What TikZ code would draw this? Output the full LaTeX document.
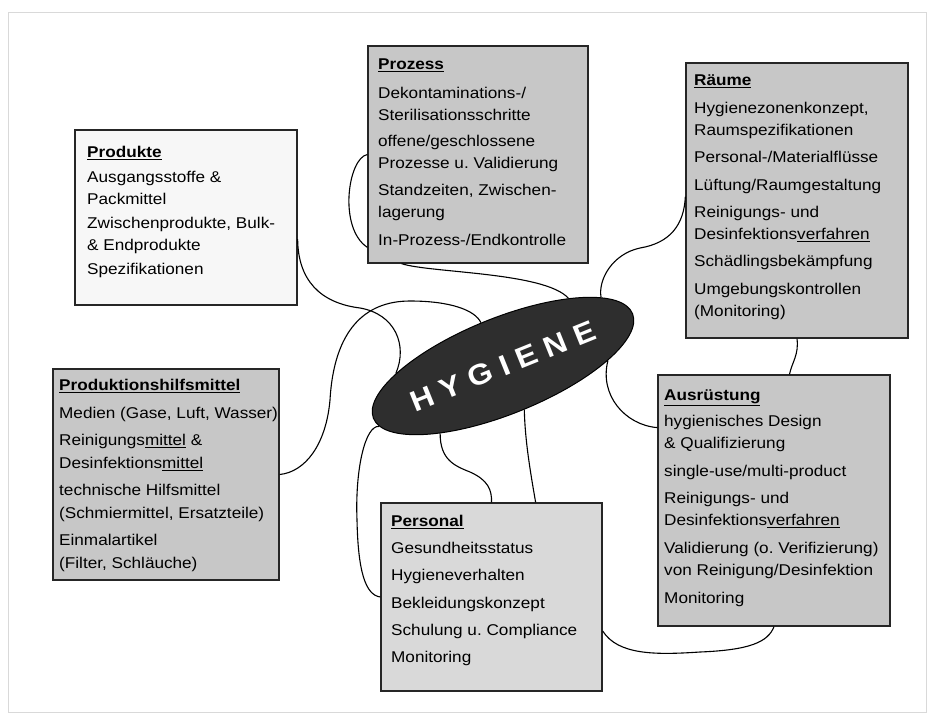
\documentclass[tikz,border=0pt]{standalone}
\usepackage{fontspec}
\setmainfont{Liberation Sans}[FakeStretch=1.1]
\usetikzlibrary{shapes.geometric}
\newcommand\undl[1]{\underline{#1}}
\definecolor{fwhite}{gray}{0.97}
\definecolor{fmid}{gray}{0.78}
\definecolor{flight}{gray}{0.85}
\definecolor{fdark}{gray}{0.18}
\definecolor{frame}{gray}{0.85}
\frenchspacing
\begin{document}
\begin{tikzpicture}[x=1pt,y=-1pt,
  box/.style={draw=black!85, line width=1.3pt, rectangle, inner sep=0pt},
  txt/.style={anchor=north west, inner sep=0pt, align=left, font=\fontsize{15.6}{22}\selectfont},
  link/.style={draw=black, line width=1.1pt},
]
\useasboundingbox (0,0) rectangle (934,720);
\draw[frame, line width=1pt] (8,12) rectangle (926,712);

% boxes
\node[box, fill=fwhite, minimum width=222pt, minimum height=175pt] (prod) at (186,217.5) {};
\node[box, fill=fmid, minimum width=220pt, minimum height=217pt] (pz) at (478,154.5) {};
\node[box, fill=fmid, minimum width=222pt, minimum height=275pt] (rm) at (797,200.5) {};
\node[box, fill=fmid, minimum width=226pt, minimum height=211pt] (ph) at (166,474.5) {};
\node[box, fill=flight, minimum width=221pt, minimum height=188pt] (ps) at (491.5,597) {};
\node[box, fill=fmid, minimum width=232pt, minimum height=251pt] (au) at (774,500.5) {};

% texts
\node[txt] (prodtxt) at (87,141.6) {\strut\textbf{\undl{Produkte}}\\[3pt]
Ausgangsstoffe \&\\
Packmittel\\[2pt]
Zwischenprodukte, Bulk-\\
\& Endprodukte\\[2pt]
Spezifikationen};

\node[txt] (pztxt) at (378,53.9) {\strut\textbf{\undl{Prozess}}\\[7pt]
Dekontaminations-/\\
Sterilisationsschritte\\[4pt]
offene/geschlossene\\
Prozesse u. Validierung\\[5pt]
Standzeiten, Zwischen-\\
lagerung\\[6pt]
In-Prozess-/Endkontrolle};

\node[txt] (rmtxt) at (694,69.6) {\strut\textbf{\undl{Räume}}\\[6pt]
Hygienezonenkonzept,\\
Raumspezifikationen\\[5pt]
Personal-/Materialflüsse\\[6pt]
Lüftung/Raumgestaltung\\[5pt]
Reinigungs- und\\
Desinfektions\undl{verfahren}\\[5pt]
Schädlingsbekämpfung\\[6pt]
Umgebungskontrollen\\
(Monitoring)};

\node[txt] (phtxt) at (59,375.3) {\strut\textbf{\undl{Produktionshilfsmittel}}\\[5.5pt]
Medien (Gase, Luft, Wasser)\\[5pt]
Reinigungs\undl{mittel} \&\\[1pt]
Desinfektions\undl{mittel}\\[5pt]
technische Hilfsmittel\\[1pt]
(Schmiermittel, Ersatzteile)\\[5pt]
Einmalartikel\\[1pt]
(Filter, Schläuche)};

\node[txt] (pstxt) at (391,511.3) {\strut\textbf{\undl{Personal}}\\[5pt]
Gesundheitsstatus\\[5pt]
Hygieneverhalten\\[6pt]
Bekleidungskonzept\\[5pt]
Schulung u. Compliance\\[5pt]
Monitoring};

\node[txt] (autxt) at (664,384.6) {\strut\textbf{\undl{Ausrüstung}}\\[4pt]
hygienisches Design\\
\& Qualifizierung\\[6pt]
single-use/multi-product\\[5pt]
Reinigungs- und\\
Desinfektions\undl{verfahren}\\[6pt]
Validierung (o. Verifizierung)\\
von Reinigung/Desinfektion\\[6pt]
Monitoring};

% central ellipse with its label
\node[ellipse, draw=black, fill=fdark, line width=1pt, minimum width=250pt, minimum height=96pt, inner sep=0pt, rotate=22, text=white, font=\fontsize{29}{30}\selectfont\bfseries] (hyg) at (503,366) {H\kern9pt Y\kern9pt G\kern9pt I\kern9pt E\kern9pt N\kern9pt E};

% connectors
\draw[link] (prod.-11) .. controls (298,280) and (320,303) .. (360,308) .. controls (395,314) and (408,345) .. (hyg.162);
\draw[link] (ph.east) .. controls (305,472) and (326,445) .. (330,400) .. controls (334,330) and (365,301) .. (410,301) .. controls (450,301) and (475,310) .. (hyg.95);
\draw[link] (pz.235) .. controls (430,273) and (545,272) .. (hyg.24);
\draw[link] (pz.west) .. controls (348,158) and (338,228) .. (pz.220);
\draw[link] (rm.178) .. controls (684,225) and (670,243) .. (640,248) .. controls (612,254) and (598,280) .. (hyg.13);
\draw[link] (rm.south) .. controls (799,355) and (792,362) .. (au.83);
\draw[link] (hyg.-19) .. controls (599,395) and (625,425) .. (au.148);
\draw[link] (ps.-17) .. controls (618,655) and (655,655) .. (700,652) .. controls (750,650) and (768,642) .. (au.south);
\draw[link] (hyg.205) .. controls (440,460) and (455,466) .. (470,472) .. controls (488,480) and (492,490) .. (ps.north);
\draw[link] (hyg.-86) .. controls (525,440) and (530,470) .. (ps.65);
\draw[link] (hyg.184) .. controls (365,425) and (355,470) .. (357,520) .. controls (358,570) and (365,595) .. (ps.west);
\end{tikzpicture}
\end{document}
